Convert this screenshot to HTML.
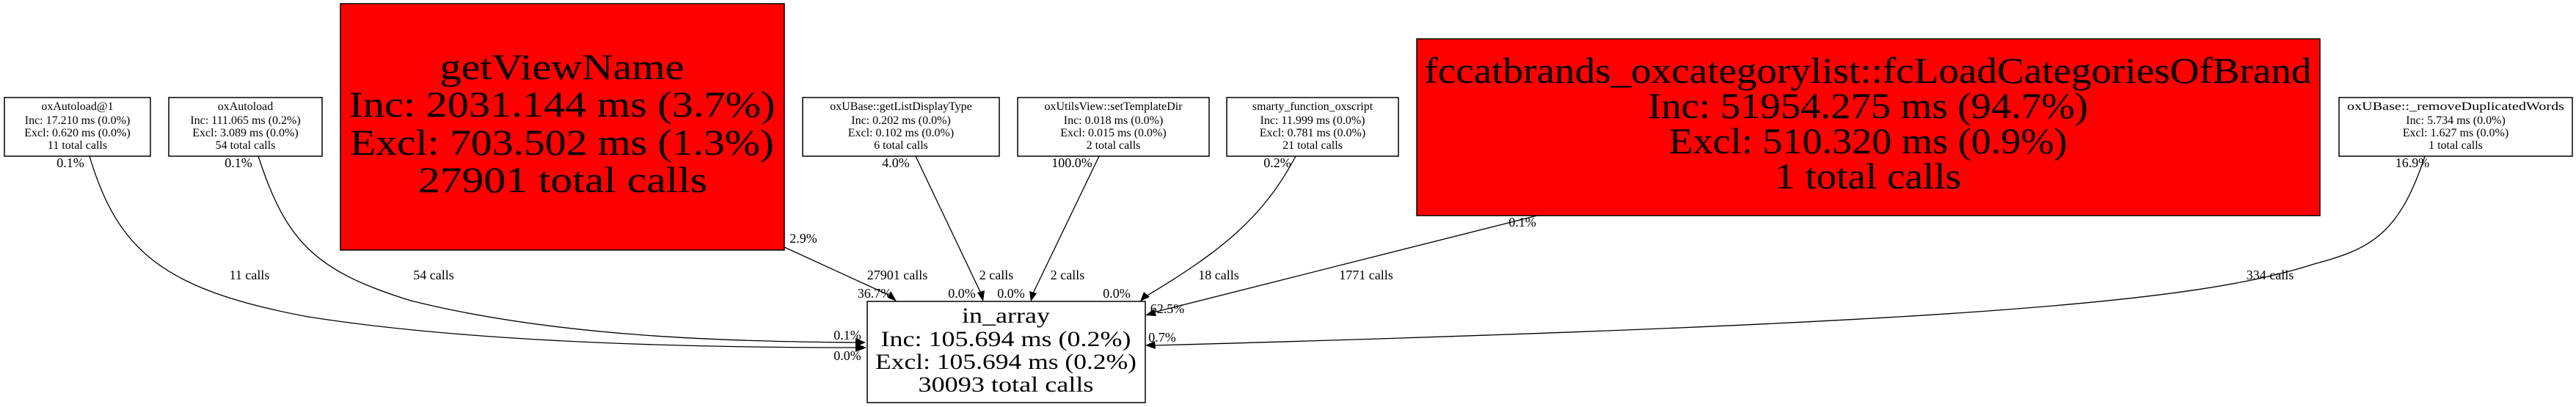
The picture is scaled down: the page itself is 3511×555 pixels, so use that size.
<!DOCTYPE html>
<html><head><meta charset="utf-8"><style>
html,body{margin:0;padding:0;background:#fff;}
svg{display:block;font-family:"Liberation Serif",serif;}
</style></head><body>
<svg width="3511" height="555" viewBox="0 0 3511 555" xmlns="http://www.w3.org/2000/svg">
<defs><marker id="a" markerWidth="10" markerHeight="8" refX="9" refY="4" orient="auto" markerUnits="userSpaceOnUse" viewBox="0 0 10 8"><path d="M0,0 L10,4 L0,8 z" fill="#000"/></marker>
</defs>
<g fill="none" stroke="#000" stroke-width="1.5">
<rect x="6" y="133" width="199" height="80" fill="#fff"/>
<rect x="230" y="133" width="209" height="80" fill="#fff"/>
<rect x="464" y="5" width="605" height="336" fill="#f00"/>
<rect x="1094" y="133" width="268" height="80" fill="#fff"/>
<rect x="1387" y="133" width="261" height="80" fill="#fff"/>
<rect x="1672" y="133" width="234" height="80" fill="#fff"/>
<rect x="1931" y="53" width="1231" height="241" fill="#f00"/>
<rect x="3188" y="133" width="318" height="80" fill="#fff"/>
<rect x="1182" y="411" width="379" height="138" fill="#fff"/>
</g>
<g fill="none" stroke="#000" stroke-width="1.3">
<path d="M122,213 C150,330 230,400 420,430 C650,470 950,474 1180,474" marker-end="url(#a)" stroke-width="16" stroke="none"/>
<path d="M122,213 C160,340 220,395 420,432 C650,468 950,474 1168,474" />
<path d="M352,213 C390,330 430,370 560,410 C760,460 1000,466 1168,467" />
<path d="M1069,337 L1215,404" />
<path d="M1248,213 L1337,400" />
<path d="M1498,213 L1408,400" />
<path d="M1766,213 C1720,300 1660,345 1562,404" />
<path d="M2095,294 L1572,426" />
<path d="M3305,213 C3270,320 3230,340 3154,360 C3000,410 2700,440 1573,471" />
</g>
<g fill="#000">
<path d="M1180,474 l-14,-6 l0,12 z"/>
<path d="M1180,467 l-14,-6 l0,12 z"/>
<path d="M1222,411 l-12,-5 l4,-9 z" transform="rotate(0)"/>
<path d="M1340,411 l-8,-12 l10,-3 z"/>
<path d="M1405,411 l-2,-14 l10,3 z"/>
<path d="M1554,411 l5,-13 l8,7 z"/>
<path d="M1561,430 l12,-9 l3,10 z"/>
<path d="M1561,471 l13,-6 l1,11 z"/>
</g>
<g font-size="16" text-anchor="middle">
<text x="105.5" y="150">oxAutoload@1</text><text x="105.5" y="169">Inc: 17.210 ms (0.0%)</text><text x="105.5" y="186">Excl: 0.620 ms (0.0%)</text><text x="105.5" y="203">11 total calls</text>
<text x="334.5" y="150">oxAutoload</text><text x="334.5" y="169">Inc: 111.065 ms (0.2%)</text><text x="334.5" y="186">Excl: 3.089 ms (0.0%)</text><text x="334.5" y="203">54 total calls</text>
<text x="1228" y="150">oxUBase::getListDisplayType</text><text x="1228" y="169">Inc: 0.202 ms (0.0%)</text><text x="1228" y="186">Excl: 0.102 ms (0.0%)</text><text x="1228" y="203">6 total calls</text>
<text x="1517.5" y="150">oxUtilsView::setTemplateDir</text><text x="1517.5" y="169">Inc: 0.018 ms (0.0%)</text><text x="1517.5" y="186">Excl: 0.015 ms (0.0%)</text><text x="1517.5" y="203">2 total calls</text>
<text x="1789" y="150">smarty_function_oxscript</text><text x="1789" y="169">Inc: 11.999 ms (0.0%)</text><text x="1789" y="186">Excl: 0.781 ms (0.0%)</text><text x="1789" y="203">21 total calls</text>
<text x="3347" y="150" textLength="296" lengthAdjust="spacingAndGlyphs">oxUBase::_removeDuplicatedWords</text><text x="3347" y="169">Inc: 5.734 ms (0.0%)</text><text x="3347" y="186">Excl: 1.627 ms (0.0%)</text><text x="3347" y="203">1 total calls</text>
</g>
<g font-size="50" text-anchor="middle">
<text x="766" y="108" textLength="333" lengthAdjust="spacingAndGlyphs">getViewName</text>
<text x="766" y="159" textLength="581" lengthAdjust="spacingAndGlyphs">Inc: 2031.144 ms (3.7%)</text>
<text x="766" y="211" textLength="578" lengthAdjust="spacingAndGlyphs">Excl: 703.502 ms (1.3%)</text>
<text x="767" y="262" textLength="394" lengthAdjust="spacingAndGlyphs">27901 total calls</text>
<text x="2546" y="113" textLength="1209" lengthAdjust="spacingAndGlyphs">fccatbrands_oxcategorylist::fcLoadCategoriesOfBrand</text>
<text x="2546" y="161" textLength="600" lengthAdjust="spacingAndGlyphs">Inc: 51954.275 ms (94.7%)</text>
<text x="2546" y="209" textLength="543" lengthAdjust="spacingAndGlyphs">Excl: 510.320 ms (0.9%)</text>
<text x="2546" y="257" textLength="254" lengthAdjust="spacingAndGlyphs">1 total calls</text>
</g>
<g font-size="30" text-anchor="middle">
<text x="1371" y="440" textLength="120" lengthAdjust="spacingAndGlyphs">in_array</text>
<text x="1371" y="472" textLength="341" lengthAdjust="spacingAndGlyphs">Inc: 105.694 ms (0.2%)</text>
<text x="1371" y="503" textLength="356" lengthAdjust="spacingAndGlyphs">Excl: 105.694 ms (0.2%)</text>
<text x="1371" y="534" textLength="239" lengthAdjust="spacingAndGlyphs">30093 total calls</text>
</g>
<g font-size="18" text-anchor="middle">
<text x="340" y="381">11 calls</text>
<text x="591" y="381">54 calls</text>
<text x="1223" y="381">27901 calls</text>
<text x="1358" y="381">2 calls</text>
<text x="1455" y="381">2 calls</text>
<text x="1661" y="381">18 calls</text>
<text x="1862" y="381">1771 calls</text>
<text x="3094" y="381">334 calls</text>
<text x="96" y="228">0.1%</text>
<text x="325" y="228">0.1%</text>
<text x="1095" y="331">2.9%</text>
<text x="1221" y="228">4.0%</text>
<text x="1461" y="228">100.0%</text>
<text x="1741" y="228">0.2%</text>
<text x="2075" y="309">0.1%</text>
<text x="3288" y="228">16.9%</text>
<text x="1192" y="406">36.7%</text>
<text x="1311" y="406">0.0%</text>
<text x="1378" y="406">0.0%</text>
<text x="1522" y="406">0.0%</text>
<text x="1591" y="427">62.5%</text>
<text x="1584" y="466">0.7%</text>
<text x="1155" y="463">0.1%</text>
<text x="1155" y="491">0.0%</text>
</g>
</svg>
</body></html>
